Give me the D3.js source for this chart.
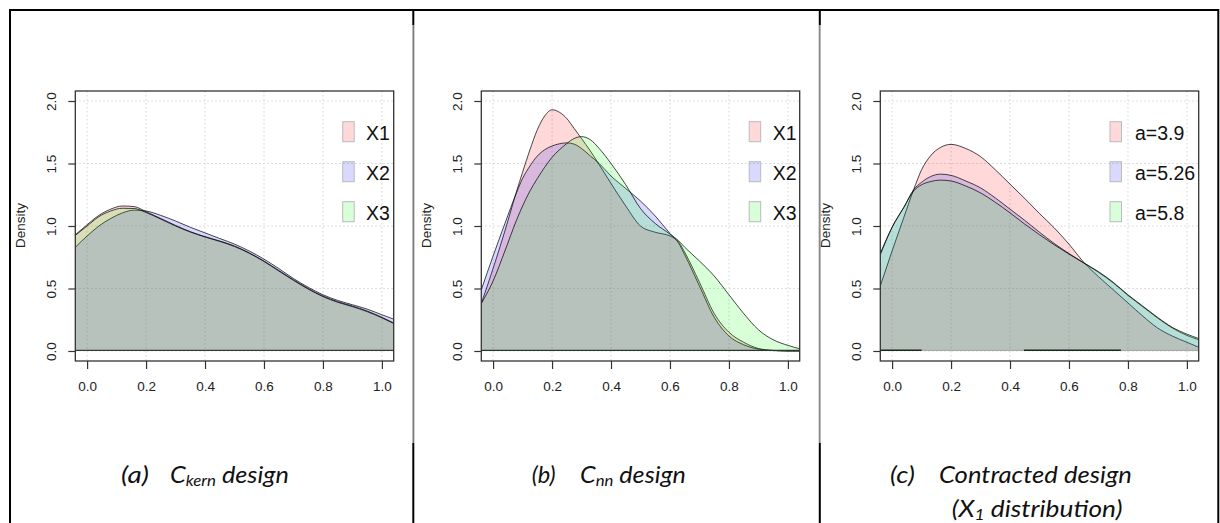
<!DOCTYPE html>
<html><head><meta charset="utf-8">
<script src="https://cdn.jsdelivr.net/npm/d3@7"></script>
<style>body{margin:0;background:#fff}svg{display:block}</style>
</head><body>
<svg id="chart" width="1220" height="523"></svg>
<script>
// ---------- data ----------
const xTicks = [0, 0.2, 0.4, 0.6, 0.8, 1.0];
const xTickLabels = ["0.0", "0.2", "0.4", "0.6", "0.8", "1.0"];
const yTicks = [0, 0.5, 1.0, 1.5, 2.0];
const yTickLabels = ["0.0", "0.5", "1.0", "1.5", "2.0"];
const seriesColors = ["#ff0000", "#0000ff", "#00ff00"];

// panel (a) C_kern design
const xA = [-0.04, 0, 0.04, 0.08, 0.12, 0.16, 0.2, 0.25, 0.3, 0.35, 0.4, 0.45, 0.5, 0.55, 0.6, 0.65, 0.7, 0.75, 0.8, 0.85, 0.9, 0.95, 1.0, 1.04];
const aX1 = [0.93, 1.01, 1.085, 1.135, 1.16, 1.155, 1.115, 1.06, 1.005, 0.955, 0.915, 0.88, 0.84, 0.785, 0.72, 0.645, 0.57, 0.5, 0.44, 0.395, 0.36, 0.32, 0.27, 0.225];
const aX2 = [0.83, 0.92, 1.0, 1.06, 1.105, 1.127, 1.12, 1.085, 1.04, 0.99, 0.945, 0.9, 0.855, 0.8, 0.735, 0.66, 0.58, 0.51, 0.45, 0.405, 0.37, 0.335, 0.29, 0.255];
const aX3 = [0.925, 1.0, 1.075, 1.12, 1.142, 1.14, 1.108, 1.055, 1.0, 0.952, 0.912, 0.877, 0.836, 0.782, 0.716, 0.64, 0.565, 0.495, 0.435, 0.39, 0.355, 0.315, 0.265, 0.22];
const legendA = ["X1", "X2", "X3"];

// panel (b) C_nn design
const xB = [-0.04, 0, 0.04, 0.08, 0.1, 0.125, 0.15, 0.175, 0.2, 0.225, 0.25, 0.275, 0.3, 0.33, 0.36, 0.4, 0.45, 0.5, 0.55, 0.6, 0.63, 0.65, 0.7, 0.75, 0.8, 0.85, 0.9, 0.95, 1.0, 1.04];
const bX1 = [0.38, 0.66, 0.96, 1.28, 1.43, 1.61, 1.77, 1.88, 1.93, 1.91, 1.86, 1.78, 1.70, 1.6, 1.49, 1.34, 1.16, 1.0, 0.95, 0.92, 0.87, 0.79, 0.55, 0.3, 0.15, 0.07, 0.02, 0.005, 0.0, 0.0];
const bX2 = [0.49, 0.76, 1.02, 1.27, 1.38, 1.48, 1.56, 1.61, 1.64, 1.658, 1.665, 1.655, 1.62, 1.56, 1.5, 1.4, 1.3, 1.2, 1.08, 0.94, 0.86, 0.77, 0.52, 0.27, 0.12, 0.05, 0.015, 0.003, 0.0, 0.0];
const bX3 = [0.38, 0.56, 0.8, 1.05, 1.16, 1.28, 1.38, 1.47, 1.55, 1.61, 1.66, 1.7, 1.715, 1.69, 1.62, 1.5, 1.33, 1.14, 1.02, 0.935, 0.88, 0.83, 0.72, 0.6, 0.45, 0.3, 0.17, 0.09, 0.045, 0.018];
const legendB = ["X1", "X2", "X3"];

// panel (c) Contracted design (X1 distribution)
const xC = [-0.04, 0, 0.04, 0.073, 0.1, 0.13, 0.165, 0.2, 0.25, 0.3, 0.35, 0.4, 0.45, 0.5, 0.55, 0.6, 0.65, 0.7, 0.75, 0.8, 0.85, 0.9, 0.95, 1.0, 1.04];
const cA39 = [0.52, 0.8, 1.07, 1.29, 1.45, 1.56, 1.63, 1.653, 1.62, 1.555, 1.45, 1.335, 1.22, 1.1, 0.985, 0.855, 0.71, 0.595, 0.49, 0.385, 0.28, 0.185, 0.12, 0.07, 0.03];
const cA526 = [0.78, 0.99, 1.15, 1.29, 1.35, 1.395, 1.415, 1.405, 1.36, 1.305, 1.225, 1.135, 1.045, 0.95, 0.86, 0.78, 0.705, 0.63, 0.545, 0.445, 0.355, 0.265, 0.185, 0.125, 0.09];
const cA58 = [0.77, 0.99, 1.15, 1.28, 1.33, 1.355, 1.367, 1.36, 1.32, 1.265, 1.19, 1.105, 1.015, 0.93, 0.85, 0.775, 0.705, 0.635, 0.55, 0.45, 0.36, 0.27, 0.19, 0.135, 0.1];
const legendC = ["a=3.9", "a=5.26", "a=5.8"];
const baseSegmentsC = [[-0.04, 0.1], [0.447, 0.776]];

// ---------- layout ----------
const svg = d3.select("#chart");
const W = 1220, H = 523;
const plotTop = 91, plotBottom = 361, plotW = 318.4;
const tickFont = "'Liberation Sans', Arial, sans-serif";
const capFont = "Lato, 'Open Sans', sans-serif";

const panels = [
  { left: 75.3, xs: xA, series: [aX1, aX2, aX3], legend: legendA, legOff: 51, txtOff: 23.3, baseColor: "#3a3a3a", segs: [] },
  { left: 481.3, xs: xB, series: [bX1, bX2, bX3], legend: legendB, legOff: 50.5, txtOff: 23.5, baseColor: "#2a3a2a", segs: [] },
  { left: 880.3, xs: xC, series: [cA39, cA526, cA58], legend: legendC, legOff: 88.7, txtOff: 25, baseColor: "#aaaaaa", segs: baseSegmentsC }
];

// table borders
const border = svg.append("g").attr("stroke", "#000").attr("stroke-width", 2);
border.append("line").attr("x1", 9).attr("x2", 1219).attr("y1", 10).attr("y2", 10);
[10, 413.3, 819.8, 1218.3].forEach(x => {
  border.append("line").attr("x1", x).attr("x2", x).attr("y1", 9).attr("y2", H);
});
[413.3, 819.8].forEach(x => {
  svg.append("line").attr("x1", x).attr("x2", x).attr("y1", 25).attr("y2", 443)
    .attr("stroke", "#fff").attr("stroke-width", 2.2);
  svg.append("line").attr("x1", x).attr("x2", x).attr("y1", 25).attr("y2", 443)
    .attr("stroke", "#777").attr("stroke-width", 1.3);
});

panels.forEach((p, pi) => {
  const x = d3.scaleLinear().domain([-0.04, 1.04]).range([p.left, p.left + plotW]);
  const y = d3.scaleLinear().domain([-0.08, 2.08]).range([plotBottom, plotTop]);
  const g = svg.append("g");
  const clipId = "clip" + pi;
  g.append("clipPath").attr("id", clipId).append("rect")
    .attr("x", p.left).attr("y", plotTop).attr("width", plotW).attr("height", plotBottom - plotTop);

  // grid
  const grid = g.append("g").attr("stroke", "#d3d3d3").attr("stroke-width", 1).attr("stroke-dasharray", "1.5,2.5");
  xTicks.forEach(t => grid.append("line").attr("x1", x(t)).attr("x2", x(t)).attr("y1", plotTop).attr("y2", plotBottom));
  yTicks.forEach(t => grid.append("line").attr("x1", p.left).attr("x2", p.left + plotW).attr("y1", y(t)).attr("y2", y(t)));

  // densities
  const body = g.append("g").attr("clip-path", `url(#${clipId})`);
  p.series.forEach((vals, si) => {
    const pts = p.xs.map((xv, i) => [xv, vals[i]]);
    const area = d3.area().x(d => x(d[0])).y0(y(0)).y1(d => y(d[1])).curve(d3.curveMonotoneX);
    const line = d3.line().x(d => x(d[0])).y(d => y(d[1])).curve(d3.curveMonotoneX);
    body.append("path").attr("d", area(pts)).attr("fill", seriesColors[si]).attr("fill-opacity", 0.15);
    body.append("path").attr("d", line(pts)).attr("fill", "none").attr("stroke", "#000")
      .attr("stroke-opacity", 0.8).attr("stroke-width", 0.9);
  });
  body.append("line").attr("x1", p.left).attr("x2", p.left + plotW).attr("y1", y(0) - 0.7).attr("y2", y(0) - 0.7)
    .attr("stroke", p.baseColor).attr("stroke-width", 1.3);
  p.segs.forEach(s => {
    body.append("line").attr("x1", x(s[0])).attr("x2", x(s[1])).attr("y1", y(0) - 0.7).attr("y2", y(0) - 0.7)
      .attr("stroke", "#1a2a1a").attr("stroke-width", 1.5);
  });

  // box
  g.append("rect").attr("x", p.left).attr("y", plotTop).attr("width", plotW).attr("height", plotBottom - plotTop)
    .attr("fill", "none").attr("stroke", "#333").attr("stroke-width", 1.3);

  // x axis
  const xa = d3.axisBottom(x).tickValues(xTicks).tickSize(8).tickFormat((d, i) => xTickLabels[i]);
  const xg = g.append("g").attr("transform", `translate(0,${plotBottom})`).call(xa);
  xg.select(".domain").remove();
  xg.selectAll(".tick line").attr("stroke", "#333").attr("stroke-width", 1.2);
  xg.selectAll(".tick text").attr("font-family", tickFont).attr("font-size", 13.5).attr("fill", "#222")
    .attr("y", 0).attr("dy", null).attr("transform", "translate(0,29.5)");

  // y axis
  const ya = d3.axisLeft(y).tickValues(yTicks).tickSize(7).tickFormat((d, i) => yTickLabels[i]);
  const yg = g.append("g").attr("transform", `translate(${p.left},0)`).call(ya);
  yg.select(".domain").remove();
  yg.selectAll(".tick line").attr("stroke", "#333").attr("stroke-width", 1.2);
  yg.selectAll(".tick text").attr("font-family", tickFont).attr("font-size", 13.5).attr("fill", "#222")
    .attr("x", 0).attr("dy", null).attr("text-anchor", "middle")
    .attr("transform", "translate(-19.3,0) rotate(-90)");

  // y title
  g.append("text").attr("transform", `translate(${p.left - 50},${(plotTop + plotBottom) / 2 - 0.5}) rotate(-90)`)
    .attr("text-anchor", "middle").attr("font-family", tickFont).attr("font-size", 13.5).attr("fill", "#222")
    .text("Density");

  // legend
  const lx = p.left + plotW - p.legOff;
  p.legend.forEach((lab, i) => {
    const ty = 121.7 + i * 40;
    g.append("rect").attr("x", lx).attr("y", ty).attr("width", 11.5).attr("height", 20)
      .attr("fill", seriesColors[i]).attr("fill-opacity", 0.15).attr("stroke", "#bbb").attr("stroke-width", 1);
    g.append("text").attr("x", lx + p.txtOff).attr("y", ty + 18.5)
      .attr("font-family", tickFont).attr("font-size", 19.5).attr("fill", "#111").text(lab);
  });
});

// captions (scaled horizontally to the reference widths)
function caption(x0, y0, targetW, parts) {
  const g = svg.append("g").attr("transform", `translate(${x0},${y0})`);
  const t = g.append("text").attr("x", 0).attr("y", 0).attr("font-family", capFont).attr("font-style", "italic")
    .attr("font-size", 24).attr("fill", "#111");
  parts.forEach(pt => {
    if (pt.sub) t.append("tspan").attr("font-size", 16).attr("dy", 3).text(pt.sub);
    else t.append("tspan").attr("dy", pt.after ? -3 : 0).text(pt.text);
  });
  const w = t.node().getComputedTextLength();
  if (w > 0) t.attr("transform", `scale(${targetW / w},1)`);
}
caption(121, 483, 28, [{ text: "(a)" }]);
caption(170, 483, 119, [{ text: "C" }, { sub: "kern" }, { text: " design", after: true }]);
caption(531.7, 483, 24, [{ text: "(b)" }]);
caption(580, 483, 106, [{ text: "C" }, { sub: "nn" }, { text: " design", after: true }]);
caption(890, 483, 25, [{ text: "(c)" }]);
caption(939, 483, 193, [{ text: "Contracted design" }]);
caption(951.7, 516.7, 171, [{ text: "(X" }, { sub: "1" }, { text: " distribution)", after: true }]);
</script>
</body></html>
